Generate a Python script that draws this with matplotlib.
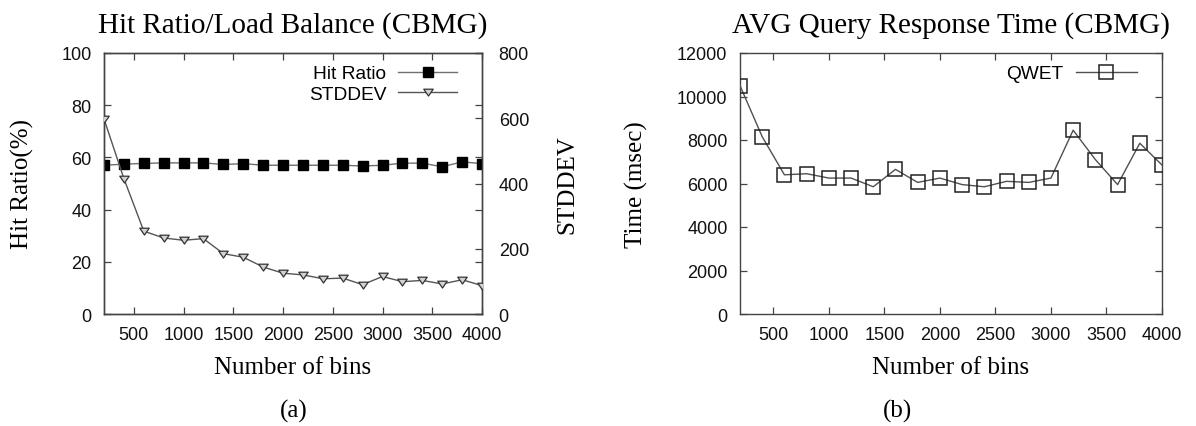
import matplotlib.pyplot as plt
from matplotlib.path import Path
from matplotlib.ticker import FixedLocator

# Number of bins used for each run
bins = [200, 400, 600, 800, 1000, 1200, 1400, 1600, 1800, 2000,
        2200, 2400, 2600, 2800, 3000, 3200, 3400, 3600, 3800, 4000]

# (a) hit ratio (%) and load-balance standard deviation
hit_ratio = [57.0, 57.4, 57.7, 57.9, 57.9, 57.9, 57.3, 57.6, 57.0, 57.0,
             57.0, 57.0, 57.0, 56.7, 57.0, 57.8, 57.8, 56.4, 58.3, 57.6]
stddev = [598, 415, 254, 233, 226, 231, 185, 174, 144, 125,
          120, 108, 110, 90, 115, 99, 103, 92, 105, 87]

# (b) average query response time (msec)
qwet = [10500, 8150, 6400, 6450, 6250, 6250, 5850, 6650, 6050, 6250,
        5950, 5850, 6100, 6050, 6250, 8450, 7100, 5950, 7850, 6850]

x_ticks = [500, 1000, 1500, 2000, 2500, 3000, 3500, 4000]
hit_ticks = [0, 20, 40, 60, 80, 100]
std_ticks = [0, 200, 400, 600, 800]
time_ticks = [0, 2000, 4000, 6000, 8000, 10000, 12000]

SERIF = ['Liberation Serif', 'DejaVu Serif']
SANS = ['Liberation Sans', 'DejaVu Sans']
TICK_FS = 13
LEGEND_FS = 13.8
LABEL_FS = 18
TITLE_FS = 21
CAPTION_FS = 18
SPINE = '#444444'

# flattened downward triangle, gnuplot style
TRI_DOWN = Path([(-1.0, 0.7), (1.0, 0.7), (0.0, -0.75), (-1.0, 0.7)],
                [Path.MOVETO, Path.LINETO, Path.LINETO, Path.CLOSEPOLY])

W, H = 1196, 427
fig = plt.figure(figsize=(W / 100, H / 100), dpi=100)
fig.patch.set_facecolor('white')


def px_axes(left, top, right, bottom):
    return fig.add_axes([left / W, 1 - bottom / H, (right - left) / W, (bottom - top) / H])


def style_axis(ax):
    for s in ax.spines.values():
        s.set_color(SPINE)
        s.set_linewidth(1.0)
    ax.tick_params(direction='in', length=5, width=0.9, color=SPINE,
                   labelsize=TICK_FS, labelcolor='#111111', pad=9)


def sans_ticks(*axes):
    for ax in axes:
        for lab in ax.get_xticklabels() + ax.get_yticklabels():
            lab.set_family(SANS)


# ---------- (a) Hit Ratio / Load Balance ----------
L1, R1 = 104, 482
ax1 = px_axes(L1, 54, R1, 315)
ax1.plot(bins, hit_ratio, color='#707070', lw=1.0, marker='s', ms=7.2,
         mfc='black', mec='black', label='Hit Ratio', zorder=3)
ax1.set_xlim(200, 4000)
ax1.set_ylim(0, 100)
ax1.xaxis.set_major_locator(FixedLocator(x_ticks))
ax1.yaxis.set_major_locator(FixedLocator(hit_ticks))

ax1r = ax1.twinx()
ax1r.plot(bins, stddev, color='#555555', lw=1.0, marker=TRI_DOWN, ms=6.8,
          mfc='#d2d2d2', mec='#333333', mew=0.9, label='STDDEV', zorder=3)
ax1r.set_ylim(0, 800)
ax1r.yaxis.set_major_locator(FixedLocator(std_ticks))

style_axis(ax1)
style_axis(ax1r)
ax1.tick_params(axis='x', top=True)
ax1.tick_params(axis='y', right=True, labelright=False)
ax1r.tick_params(axis='y', pad=12)
sans_ticks(ax1, ax1r)

ax1.set_xlabel('Number of bins', family=SERIF, fontsize=LABEL_FS)
ax1.xaxis.set_label_coords(0.5, (315 - 357.5) / 261)
ax1.set_ylabel('Hit Ratio(%)', family=SERIF, fontsize=LABEL_FS)
ax1.yaxis.set_label_coords((34 - L1) / (R1 - L1), 0.5)
ax1r.set_ylabel('STDDEV', family=SERIF, fontsize=LABEL_FS)
ax1r.yaxis.set_label_coords((556 - L1) / (R1 - L1), 0.5)
ax1.set_title('Hit Ratio/Load Balance (CBMG)', family=SERIF, fontsize=TITLE_FS, pad=15)

h1, l1 = ax1.get_legend_handles_labels()
h2, l2 = ax1r.get_legend_handles_labels()
ax1r.legend(h1 + h2, l1 + l2, loc='upper right',
            bbox_to_anchor=((457 - L1) / (R1 - L1), (315 - 66) / 261),
            frameon=False, markerfirst=False, handlelength=3.07,
            handletextpad=0.62, labelspacing=0.15, borderpad=0, borderaxespad=0,
            prop={'family': SANS, 'size': LEGEND_FS})

# ---------- (b) AVG Query Response Time ----------
L2, R2 = 740, 1162
ax2 = px_axes(L2, 54, R2, 315)
ax2.plot(bins, qwet, color='#505050', lw=1.0, marker='s', ms=9.6,
         mfc='none', mec='#222222', mew=1.1, label='QWET', zorder=3)
ax2.set_xlim(200, 4000)
ax2.set_ylim(0, 12000)
ax2.xaxis.set_major_locator(FixedLocator(x_ticks))
ax2.yaxis.set_major_locator(FixedLocator(time_ticks))
style_axis(ax2)
ax2.tick_params(axis='x', top=True)
ax2.tick_params(axis='y', right=True)
sans_ticks(ax2)

ax2.set_xlabel('Number of bins', family=SERIF, fontsize=LABEL_FS)
ax2.xaxis.set_label_coords(0.5, (315 - 357.5) / 261)
ax2.set_ylabel('Time (msec)', family=SERIF, fontsize=LABEL_FS)
ax2.yaxis.set_label_coords((648 - L2) / (R2 - L2), 0.5)
ax2.set_title('AVG Query Response Time (CBMG)', family=SERIF, fontsize=TITLE_FS, pad=15)
ax2.legend(loc='upper right',
           bbox_to_anchor=((1137 - L2) / (R2 - L2), (315 - 66) / 261),
           frameon=False, markerfirst=False, handlelength=3.2,
           handletextpad=0.62, borderpad=0, borderaxespad=0,
           prop={'family': SANS, 'size': LEGEND_FS})

# sub-figure captions
fig.text(294 / W, 1 - 411 / H, '(a)', family=SERIF, fontsize=CAPTION_FS,
         ha='center', va='center')
fig.text(897 / W, 1 - 411 / H, '(b)', family=SERIF, fontsize=CAPTION_FS,
         ha='center', va='center')

fig.savefig('out.png', dpi=100, facecolor='white')
